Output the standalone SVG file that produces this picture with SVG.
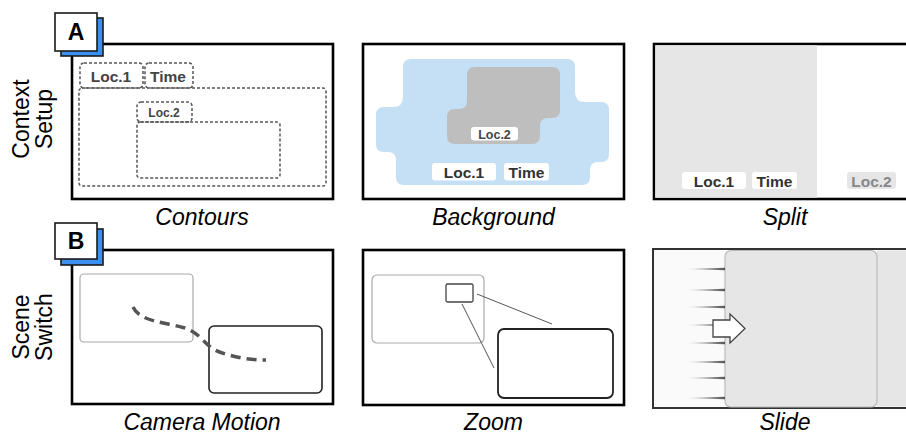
<svg xmlns="http://www.w3.org/2000/svg" width="906" height="434" viewBox="0 0 906 434">
<defs>
<linearGradient id="streak" x1="0" y1="0" x2="1" y2="0">
<stop offset="0" stop-color="#666" stop-opacity="0"/>
<stop offset="1" stop-color="#555" stop-opacity="1"/>
</linearGradient>
</defs>
<style>
.frame{fill:#fff;stroke:#000;stroke-width:2.6}
.tagw{fill:#fff;stroke:#1a1a1a;stroke-width:1.6}
.tagb{fill:#3b8ff0;stroke:#1a1a1a;stroke-width:1.6}
.tagt{font-family:"Liberation Sans",Arial,sans-serif;font-weight:bold;font-size:23px;fill:#000;text-anchor:middle}
.cap{font-family:"Liberation Sans",Arial,sans-serif;font-style:italic;font-size:23px;fill:#000;text-anchor:middle}
.row{font-family:"Liberation Sans",Arial,sans-serif;font-size:23px;fill:#000;text-anchor:middle}
.lbl{font-family:"Liberation Sans",Arial,sans-serif;font-weight:bold;font-size:15.5px;fill:#333;text-anchor:middle}
.lbls{font-family:"Liberation Sans",Arial,sans-serif;font-weight:bold;font-size:12.5px;fill:#444;text-anchor:middle}
.dash{fill:none;stroke:#555;stroke-width:1.5;stroke-dasharray:3 2}
.wbox{fill:#fff}
</style>

<g id="row-labels">
<text class="row" transform="translate(29,119) rotate(-90)"><tspan x="0" y="0">Context</tspan><tspan x="0" y="23">Setup</tspan></text>
<text class="row" transform="translate(29,327) rotate(-90)"><tspan x="0" y="0">Scene</tspan><tspan x="0" y="23">Switch</tspan></text>
</g>

<g id="contours">
<rect class="frame" x="72" y="44" width="261" height="155"/>
<rect class="dash" x="80" y="63" width="63" height="25" rx="4"/>
<rect class="dash" x="145" y="63" width="48" height="25" rx="4"/>
<rect class="dash" x="79" y="88" width="247" height="98" rx="3"/>
<rect class="dash" x="137" y="102" width="55" height="20" rx="4"/>
<rect class="dash" x="137" y="122" width="143" height="56" rx="3"/>
<text class="lbl" x="111" y="82" style="fill:#444">Loc.1</text>
<text class="lbl" x="168" y="82" style="fill:#444">Time</text>
<text class="lbls" x="164" y="117" style="font-size:12px">Loc.2</text>
<text class="cap" x="202" y="225">Contours</text>
</g>

<g id="background">
<rect class="frame" x="363" y="44" width="261" height="155"/>
<path fill="#c5dff5" d="M 411 59 H 567 Q 575 59 575 67 V 92 Q 575 102 585 102 H 601 Q 609 102 609 110 V 154 Q 609 162 601 162 H 598 Q 590 162 590 170 V 177 Q 590 185 582 185 H 404 Q 396 185 396 177 V 160 Q 396 152 388 152 H 384 Q 376 152 376 144 V 115 Q 376 107 384 107 H 393 Q 403 107 403 97 V 67 Q 403 59 411 59 Z"/>
<path fill="#bebebe" d="M 475 67 H 552 Q 560 67 560 75 V 110 Q 560 118 552 118 H 548 Q 540 118 540 126 V 136 Q 540 144 532 144 H 455 Q 447 144 447 136 V 117 Q 447 109 455 109 H 459 Q 467 109 467 101 V 75 Q 467 67 475 67 Z"/>
<rect class="wbox" x="471" y="127" width="47" height="13.5" rx="3"/>
<text class="lbls" x="494.5" y="138.5">Loc.2</text>
<rect class="wbox" x="432" y="163" width="64" height="17.5" rx="3"/>
<text class="lbl" x="464" y="177.5">Loc.1</text>
<rect class="wbox" x="504" y="163" width="45" height="17.5" rx="3"/>
<text class="lbl" x="526.5" y="177.5">Time</text>
<text class="cap" x="493.5" y="225">Background</text>
</g>

<g id="split">
<rect class="frame" x="654" y="44" width="262" height="155"/>
<rect x="655.3" y="45.3" width="161.7" height="152.4" fill="#e6e6e6"/>
<rect class="wbox" x="682" y="172" width="64" height="17" rx="3"/>
<text class="lbl" x="714" y="186.5">Loc.1</text>
<rect class="wbox" x="752" y="172" width="45" height="17" rx="3"/>
<text class="lbl" x="774.5" y="186.5">Time</text>
<rect x="847" y="172" width="49" height="17" rx="3" fill="#e6e6e6"/>
<text class="lbl" x="871.5" y="186.5" style="fill:#888">Loc.2</text>
<text class="cap" x="785" y="225">Split</text>
</g>

<g id="tag-a">
<rect class="tagb" x="61" y="18" width="42" height="38"/>
<rect class="tagw" x="55" y="13" width="42" height="38"/>
<text class="tagt" x="76" y="40">A</text>
</g>

<g id="camera-motion">
<rect class="frame" x="72" y="250" width="261" height="154"/>
<rect x="80" y="274" width="113" height="68" rx="4" fill="none" stroke="#aaa" stroke-width="1.2"/>
<rect x="209" y="326" width="113" height="67" rx="5" fill="none" stroke="#222" stroke-width="1.6"/>
<path d="M 133 307 C 140 322, 165 322, 185 328 C 200 333, 205 345, 215 350 C 230 357, 250 360, 266 360" fill="none" stroke="#555" stroke-width="3.5" stroke-dasharray="10 6"/>
<text class="cap" x="202" y="430">Camera Motion</text>
</g>

<g id="tag-b">
<rect class="tagb" x="61" y="229" width="42" height="36"/>
<rect class="tagw" x="55" y="223" width="42" height="36"/>
<text class="tagt" x="76" y="249">B</text>
</g>

<g id="zoom">
<rect class="frame" x="363" y="250" width="261" height="155"/>
<rect x="372" y="275" width="112" height="68" rx="5" fill="none" stroke="#aaa" stroke-width="1.2"/>
<rect x="446" y="284" width="27" height="18" rx="1.5" fill="none" stroke="#444" stroke-width="1.3"/>
<rect x="498" y="329" width="115" height="69" rx="6" fill="none" stroke="#222" stroke-width="1.8"/>
<g id="connectors" stroke="#555" stroke-width="1">
<line x1="477" y1="294" x2="552" y2="324"/>
<line x1="462" y1="304" x2="494" y2="368"/>
</g>
<text class="cap" x="493.5" y="430">Zoom</text>
</g>

<g id="slide">
<rect x="653" y="249" width="263" height="159" fill="#fafafa" stroke="#333" stroke-width="2"/>
<rect x="877" y="250.5" width="40" height="156" fill="#e6e6e6"/>
<rect x="725" y="250.5" width="152" height="156.5" rx="6" fill="#e6e6e6" stroke="#bbb" stroke-width="1.2"/>
<g fill="url(#streak)">
<polygon points="683,269 725,267.8 725,270.2"/>
<polygon points="683,290 725,288.8 725,291.2"/>
<polygon points="683,307 725,305.8 725,308.2"/>
<polygon points="683,325 725,323.8 725,326.2"/>
<polygon points="683,343 725,341.8 725,344.2"/>
<polygon points="683,362 725,360.8 725,363.2"/>
<polygon points="683,378 725,376.8 725,379.2"/>
<polygon points="683,398 725,396.8 725,399.2"/>
</g>
<path d="M 713 320 H 730 V 314 L 745 328.5 L 730 343 V 337 H 713 Z" fill="#fff" stroke="#444" stroke-width="1.3" stroke-linejoin="miter"/>
<text class="cap" x="785" y="430">Slide</text>
</g>
</svg>
